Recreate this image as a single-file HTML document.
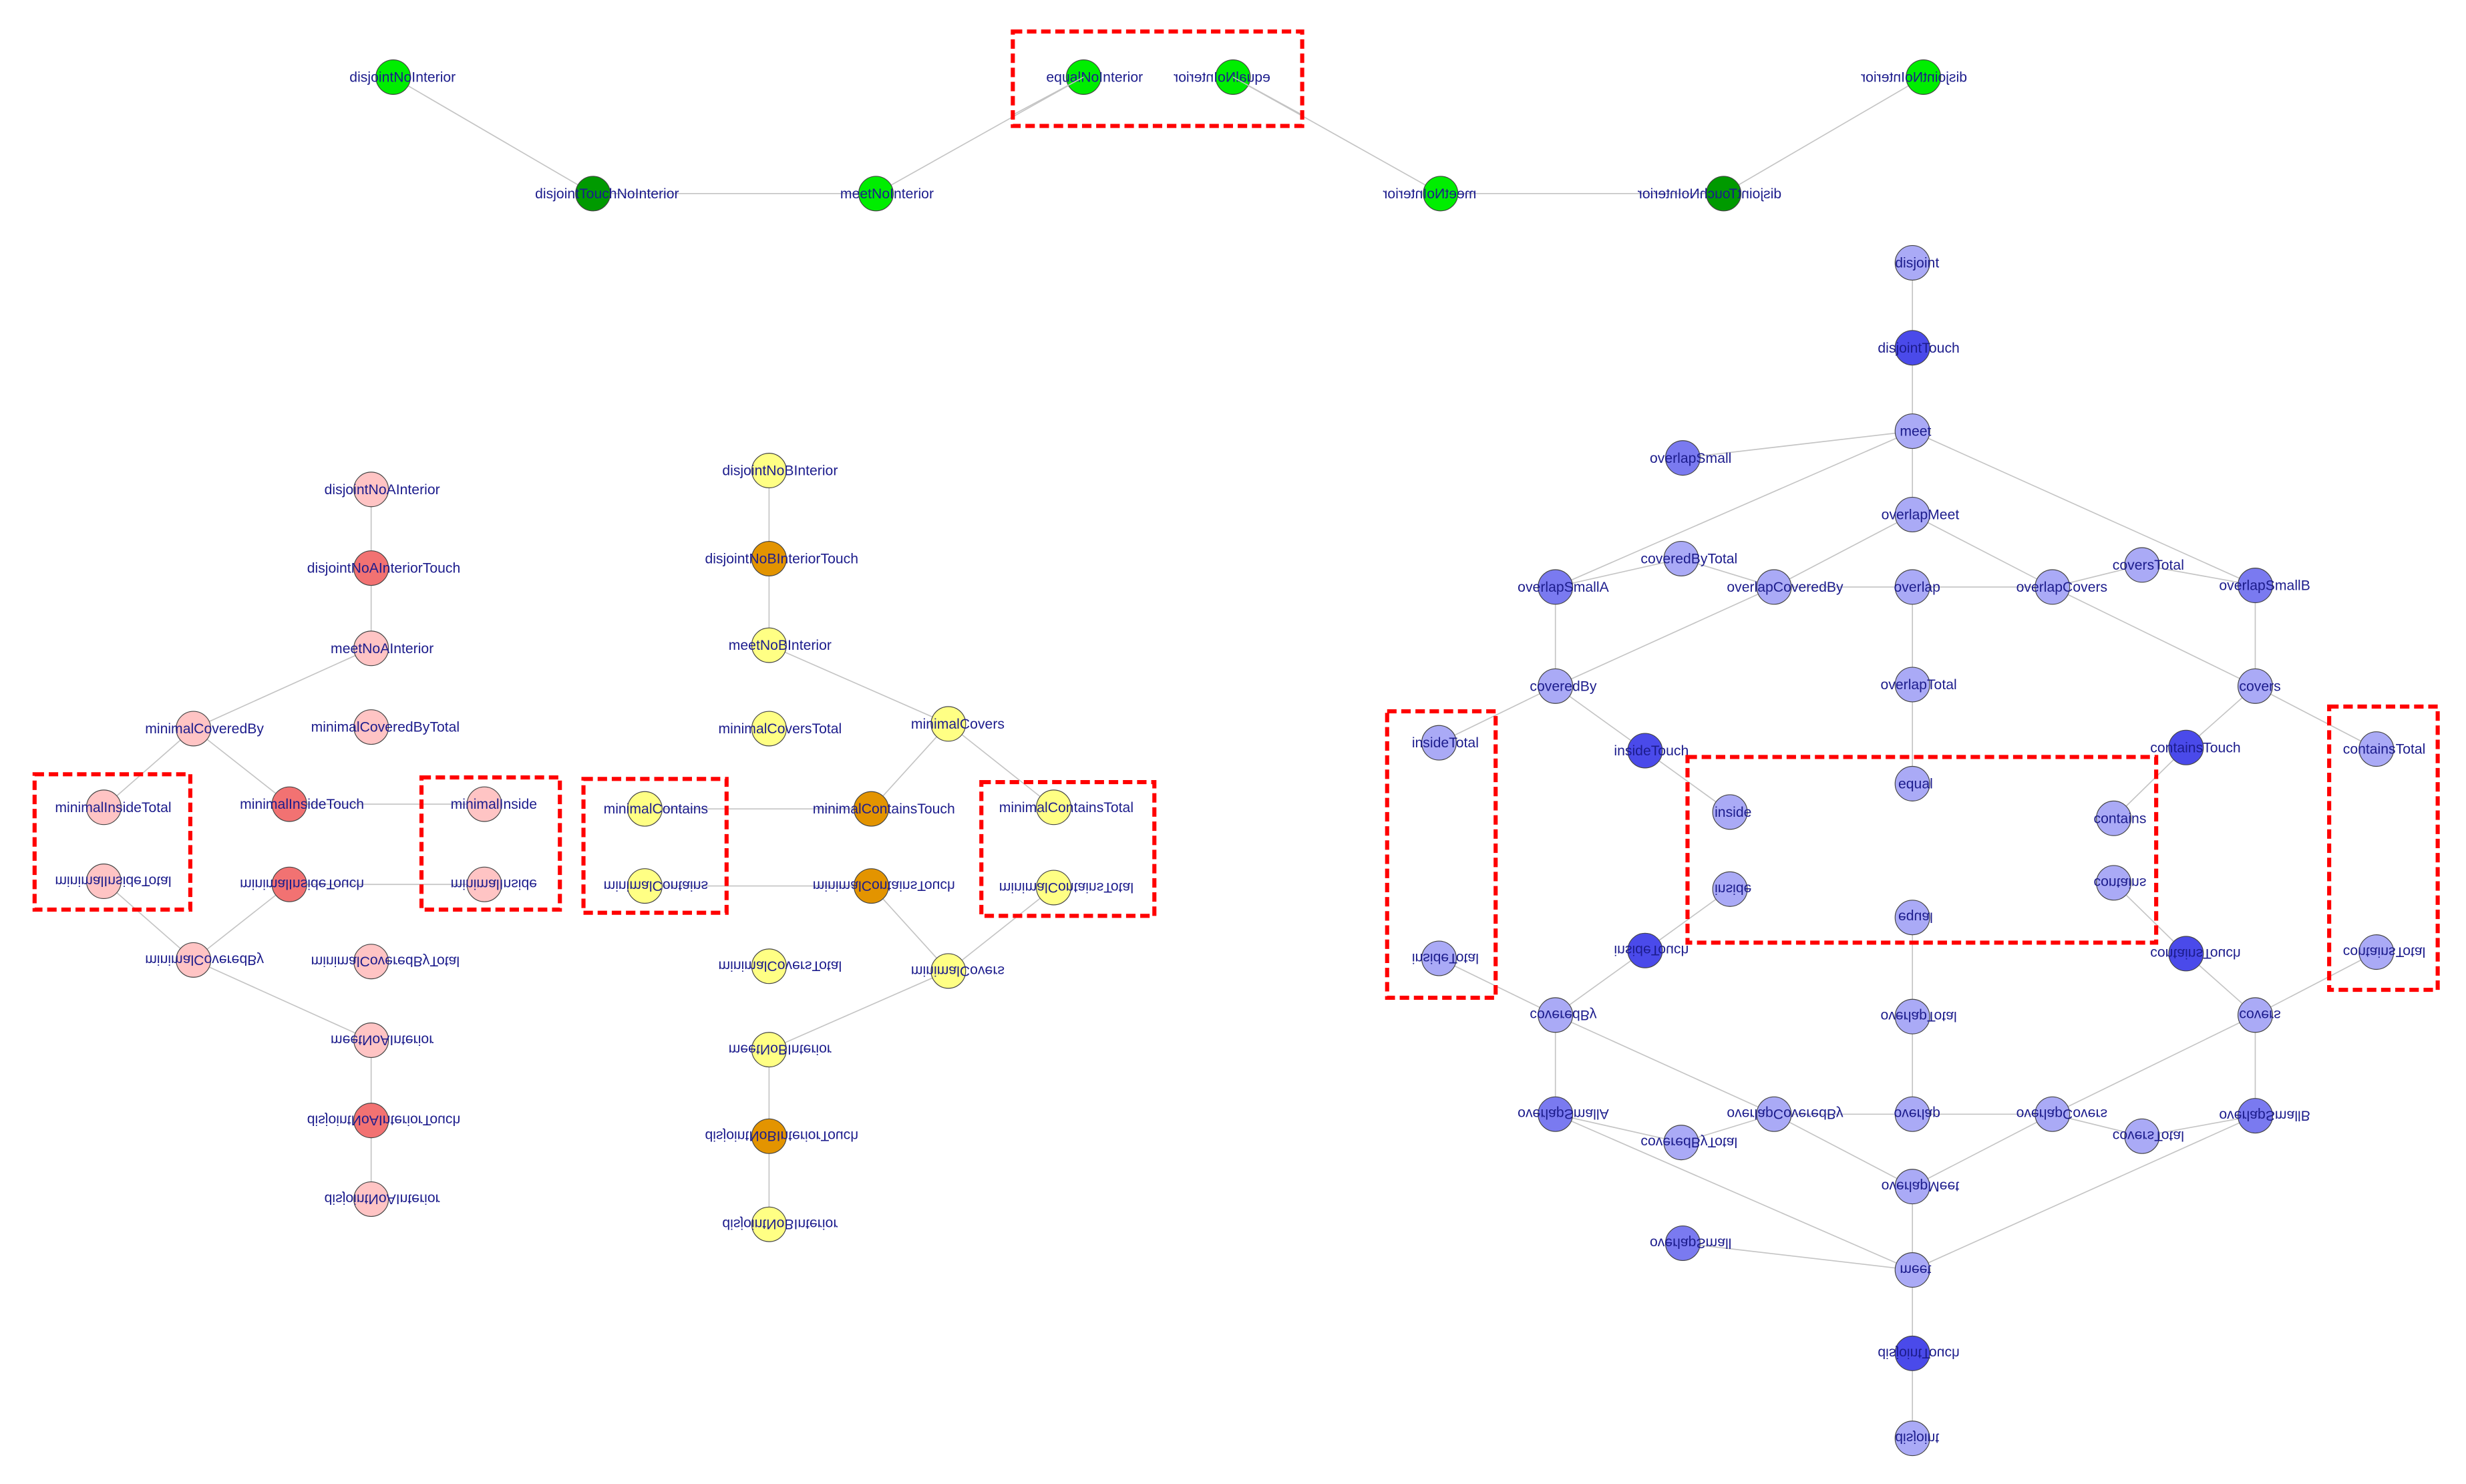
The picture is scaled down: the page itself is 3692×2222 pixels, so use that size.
<!DOCTYPE html>
<html><head><meta charset="utf-8"><style>
html,body{margin:0;padding:0;background:#fff;}
svg{display:block;}
text{font-family:"Liberation Sans",sans-serif;font-size:9px;fill:#1c1c8c;text-anchor:middle;}
.e{stroke:#c4c4c4;stroke-width:0.7;fill:none;}
circle{stroke:#444;stroke-width:0.5;}
.b{fill:none;stroke:#ff0000;stroke-width:2.6;stroke-dasharray:6,3;}
</style></head><body>
<svg width="3692" height="2222" viewBox="0 0 1568 943" preserveAspectRatio="none" xmlns="http://www.w3.org/2000/svg">
<rect width="1568" height="943" fill="#fff"/>

<!-- GREEN left -->
<g id="gl">
<path class="e" d="M250 49L377 123L557 123L689 49"/>
<circle cx="250" cy="49" r="11" fill="#00ee00"/>
<circle cx="377" cy="123" r="11" fill="#009a00"/>
<circle cx="557" cy="123" r="11" fill="#00ee00"/>
<circle cx="689" cy="49" r="11" fill="#00ee00"/>
<text x="256" y="52">disjointNoInterior</text>
<text x="386" y="126">disjointTouchNoInterior</text>
<text x="564" y="126">meetNoInterior</text>
<text x="696" y="52">equalNoInterior</text>
</g>
<g transform="translate(1473,0) scale(-1,1)">
<path class="e" d="M250 49L377 123L557 123L689 49"/>
<circle cx="250" cy="49" r="11" fill="#00ee00"/>
<circle cx="377" cy="123" r="11" fill="#009a00"/>
<circle cx="557" cy="123" r="11" fill="#00ee00"/>
<circle cx="689" cy="49" r="11" fill="#00ee00"/>
<text x="256" y="52">disjointNoInterior</text>
<text x="386" y="126">disjointTouchNoInterior</text>
<text x="564" y="126">meetNoInterior</text>
<text x="696" y="52">equalNoInterior</text>
</g>
<path class="e" d="M689 49L644 73M784 49L828 73"/>

<!-- PINK -->
<g>
<path class="e" d="M236 311V412L123 463L66 513M123 463L184 511L308 511"/>
<circle cx="236" cy="311" r="11" fill="#ffc4c4"/>
<circle cx="236" cy="361" r="11" fill="#f27272"/>
<circle cx="236" cy="412" r="11" fill="#ffc4c4"/>
<circle cx="123" cy="463" r="11" fill="#ffc4c4"/>
<circle cx="236" cy="462" r="11" fill="#ffc4c4"/>
<circle cx="184" cy="511" r="11" fill="#f27272"/>
<circle cx="66" cy="513" r="11" fill="#ffc4c4"/>
<circle cx="308" cy="511" r="11" fill="#ffc4c4"/>
<text x="243" y="314">disjointNoAInterior</text>
<text x="244" y="364">disjointNoAInteriorTouch</text>
<text x="243" y="415">meetNoAInterior</text>
<text x="130" y="466">minimalCoveredBy</text>
<text x="245" y="465">minimalCoveredByTotal</text>
<text x="192" y="514">minimalInsideTouch</text>
<text x="72" y="516">minimalInsideTotal</text>
<text x="314" y="514">minimalInside</text>
</g>
<g transform="translate(0,1073) scale(1,-1)">
<path class="e" d="M236 311V412L123 463L66 513M123 463L184 511L308 511"/>
<circle cx="236" cy="311" r="11" fill="#ffc4c4"/>
<circle cx="236" cy="361" r="11" fill="#f27272"/>
<circle cx="236" cy="412" r="11" fill="#ffc4c4"/>
<circle cx="123" cy="463" r="11" fill="#ffc4c4"/>
<circle cx="236" cy="462" r="11" fill="#ffc4c4"/>
<circle cx="184" cy="511" r="11" fill="#f27272"/>
<circle cx="66" cy="513" r="11" fill="#ffc4c4"/>
<circle cx="308" cy="511" r="11" fill="#ffc4c4"/>
<text x="243" y="314">disjointNoAInterior</text>
<text x="244" y="364">disjointNoAInteriorTouch</text>
<text x="243" y="415">meetNoAInterior</text>
<text x="130" y="466">minimalCoveredBy</text>
<text x="245" y="465">minimalCoveredByTotal</text>
<text x="192" y="514">minimalInsideTouch</text>
<text x="72" y="516">minimalInsideTotal</text>
<text x="314" y="514">minimalInside</text>
</g>

<!-- YELLOW -->
<g>
<path class="e" d="M489 299V410L603 460L554 514L410 514M603 460L670 513"/>
<circle cx="489" cy="299" r="11" fill="#ffff84"/>
<circle cx="489" cy="355" r="11" fill="#e39400"/>
<circle cx="489" cy="410" r="11" fill="#ffff84"/>
<circle cx="489" cy="463" r="11" fill="#ffff84"/>
<circle cx="603" cy="460" r="11" fill="#ffff84"/>
<circle cx="554" cy="514" r="11" fill="#e39400"/>
<circle cx="410" cy="514" r="11" fill="#ffff84"/>
<circle cx="670" cy="513" r="11" fill="#ffff84"/>
<text x="496" y="302">disjointNoBInterior</text>
<text x="497" y="358">disjointNoBInteriorTouch</text>
<text x="496" y="413">meetNoBInterior</text>
<text x="496" y="466">minimalCoversTotal</text>
<text x="609" y="463">minimalCovers</text>
<text x="562" y="517">minimalContainsTouch</text>
<text x="417" y="517">minimalContains</text>
<text x="678" y="516">minimalContainsTotal</text>
</g>
<g transform="translate(0,1077) scale(1,-1)">
<path class="e" d="M489 299V410L603 460L554 514L410 514M603 460L670 513"/>
<circle cx="489" cy="299" r="11" fill="#ffff84"/>
<circle cx="489" cy="355" r="11" fill="#e39400"/>
<circle cx="489" cy="410" r="11" fill="#ffff84"/>
<circle cx="489" cy="463" r="11" fill="#ffff84"/>
<circle cx="603" cy="460" r="11" fill="#ffff84"/>
<circle cx="554" cy="514" r="11" fill="#e39400"/>
<circle cx="410" cy="514" r="11" fill="#ffff84"/>
<circle cx="670" cy="513" r="11" fill="#ffff84"/>
<text x="496" y="302">disjointNoBInterior</text>
<text x="497" y="358">disjointNoBInteriorTouch</text>
<text x="496" y="413">meetNoBInterior</text>
<text x="496" y="466">minimalCoversTotal</text>
<text x="609" y="463">minimalCovers</text>
<text x="562" y="517">minimalContainsTouch</text>
<text x="417" y="517">minimalContains</text>
<text x="678" y="516">minimalContainsTotal</text>
</g>

<!-- BLUE -->
<g>
<path class="e" d="M1216 167V327M1216 274L1070 291M1216 274L989 373M1216 274L1434 372M1216 327L1128 373M1216 327L1305 373M989 373L1069 355L1128 373M1305 373L1362 359L1434 372M1128 373H1305M989 373V436M1128 373L989 436M1216 373V498M1305 373L1434 436M1434 372V436M989 436L915 472M989 436L1046 477L1100 516M1434 436L1390 475L1344 520M1434 436L1511 476"/>
<circle cx="1216" cy="167" r="11" fill="#aaaaf6"/>
<circle cx="1216" cy="221" r="11" fill="#4a4aea"/>
<circle cx="1216" cy="274" r="11" fill="#aaaaf6"/>
<circle cx="1070" cy="291" r="11" fill="#7a7af0"/>
<circle cx="1216" cy="327" r="11" fill="#aaaaf6"/>
<circle cx="1069" cy="355" r="11" fill="#aaaaf6"/>
<circle cx="1362" cy="359" r="11" fill="#aaaaf6"/>
<circle cx="989" cy="373" r="11" fill="#7a7af0"/>
<circle cx="1128" cy="373" r="11" fill="#aaaaf6"/>
<circle cx="1216" cy="373" r="11" fill="#aaaaf6"/>
<circle cx="1305" cy="373" r="11" fill="#aaaaf6"/>
<circle cx="1434" cy="372" r="11" fill="#7a7af0"/>
<circle cx="1216" cy="435" r="11" fill="#aaaaf6"/>
<circle cx="989" cy="436" r="11" fill="#aaaaf6"/>
<circle cx="1434" cy="436" r="11" fill="#aaaaf6"/>
<circle cx="915" cy="472" r="11" fill="#aaaaf6"/>
<circle cx="1046" cy="477" r="11" fill="#4a4aea"/>
<circle cx="1390" cy="475" r="11" fill="#4a4aea"/>
<circle cx="1511" cy="476" r="11" fill="#aaaaf6"/>
<circle cx="1216" cy="498" r="11" fill="#aaaaf6"/>
<circle cx="1100" cy="516" r="11" fill="#aaaaf6"/>
<circle cx="1344" cy="520" r="11" fill="#aaaaf6"/>
<text x="1219" y="170">disjoint</text>
<text x="1220" y="224">disjointTouch</text>
<text x="1218" y="277">meet</text>
<text x="1075" y="294">overlapSmall</text>
<text x="1221" y="330">overlapMeet</text>
<text x="1074" y="358">coveredByTotal</text>
<text x="1366" y="362">coversTotal</text>
<text x="994" y="376">overlapSmallA</text>
<text x="1135" y="376">overlapCoveredBy</text>
<text x="1219" y="376">overlap</text>
<text x="1311" y="376">overlapCovers</text>
<text x="1440" y="375">overlapSmallB</text>
<text x="1220" y="438">overlapTotal</text>
<text x="994" y="439">coveredBy</text>
<text x="1437" y="439">covers</text>
<text x="919" y="475">insideTotal</text>
<text x="1050" y="480">insideTouch</text>
<text x="1396" y="478">containsTouch</text>
<text x="1516" y="479">containsTotal</text>
<text x="1218" y="501">equal</text>
<text x="1102" y="519">inside</text>
<text x="1348" y="523">contains</text>
</g>
<g transform="translate(0,1081) scale(1,-1)">
<path class="e" d="M1216 167V327M1216 274L1070 291M1216 274L989 373M1216 274L1434 372M1216 327L1128 373M1216 327L1305 373M989 373L1069 355L1128 373M1305 373L1362 359L1434 372M1128 373H1305M989 373V436M1128 373L989 436M1216 373V498M1305 373L1434 436M1434 372V436M989 436L915 472M989 436L1046 477L1100 516M1434 436L1390 475L1344 520M1434 436L1511 476"/>
<circle cx="1216" cy="167" r="11" fill="#aaaaf6"/>
<circle cx="1216" cy="221" r="11" fill="#4a4aea"/>
<circle cx="1216" cy="274" r="11" fill="#aaaaf6"/>
<circle cx="1070" cy="291" r="11" fill="#7a7af0"/>
<circle cx="1216" cy="327" r="11" fill="#aaaaf6"/>
<circle cx="1069" cy="355" r="11" fill="#aaaaf6"/>
<circle cx="1362" cy="359" r="11" fill="#aaaaf6"/>
<circle cx="989" cy="373" r="11" fill="#7a7af0"/>
<circle cx="1128" cy="373" r="11" fill="#aaaaf6"/>
<circle cx="1216" cy="373" r="11" fill="#aaaaf6"/>
<circle cx="1305" cy="373" r="11" fill="#aaaaf6"/>
<circle cx="1434" cy="372" r="11" fill="#7a7af0"/>
<circle cx="1216" cy="435" r="11" fill="#aaaaf6"/>
<circle cx="989" cy="436" r="11" fill="#aaaaf6"/>
<circle cx="1434" cy="436" r="11" fill="#aaaaf6"/>
<circle cx="915" cy="472" r="11" fill="#aaaaf6"/>
<circle cx="1046" cy="477" r="11" fill="#4a4aea"/>
<circle cx="1390" cy="475" r="11" fill="#4a4aea"/>
<circle cx="1511" cy="476" r="11" fill="#aaaaf6"/>
<circle cx="1216" cy="498" r="11" fill="#aaaaf6"/>
<circle cx="1100" cy="516" r="11" fill="#aaaaf6"/>
<circle cx="1344" cy="520" r="11" fill="#aaaaf6"/>
<text x="1219" y="170">disjoint</text>
<text x="1220" y="224">disjointTouch</text>
<text x="1218" y="277">meet</text>
<text x="1075" y="294">overlapSmall</text>
<text x="1221" y="330">overlapMeet</text>
<text x="1074" y="358">coveredByTotal</text>
<text x="1366" y="362">coversTotal</text>
<text x="994" y="376">overlapSmallA</text>
<text x="1135" y="376">overlapCoveredBy</text>
<text x="1219" y="376">overlap</text>
<text x="1311" y="376">overlapCovers</text>
<text x="1440" y="375">overlapSmallB</text>
<text x="1220" y="438">overlapTotal</text>
<text x="994" y="439">coveredBy</text>
<text x="1437" y="439">covers</text>
<text x="919" y="475">insideTotal</text>
<text x="1050" y="480">insideTouch</text>
<text x="1396" y="478">containsTouch</text>
<text x="1516" y="479">containsTotal</text>
<text x="1218" y="501">equal</text>
<text x="1102" y="519">inside</text>
<text x="1348" y="523">contains</text>
</g>

<!-- red dashed boxes -->
<rect class="b" x="644" y="20" width="184" height="60"/>
<rect class="b" x="22" y="492" width="99" height="86"/>
<rect class="b" x="268" y="494" width="88" height="84"/>
<rect class="b" x="371" y="495" width="91" height="85"/>
<rect class="b" x="624" y="497" width="110" height="85"/>
<rect class="b" x="882" y="452" width="69" height="182"/>
<rect class="b" x="1073" y="481" width="298" height="118"/>
<rect class="b" x="1481" y="449" width="69" height="180"/>
</svg>
</body></html>
